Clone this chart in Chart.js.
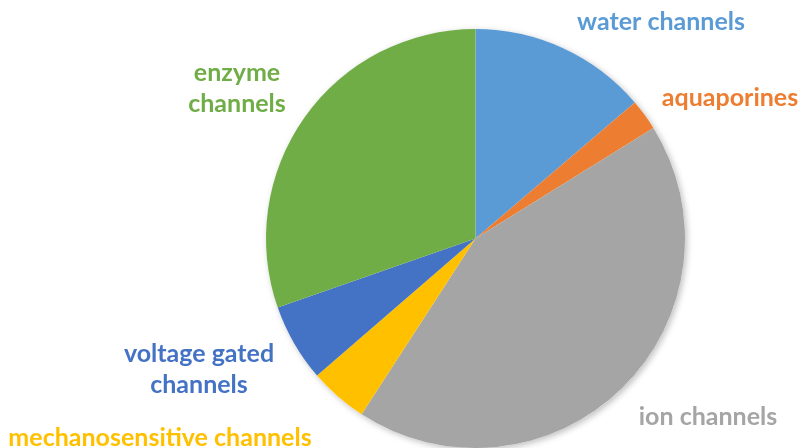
<!DOCTYPE html>
<html>
<head>
<meta charset="utf-8">
<script src="https://cdn.jsdelivr.net/npm/chart.js@4/dist/chart.umd.min.js"></script>
<style>
  html, body { margin: 0; padding: 0; background: #fff; }
  #wrap { width: 803px; height: 448px; }
</style>
</head>
<body>
<div id="wrap"><canvas id="grafico" width="803" height="448"></canvas></div>
<script>
// valores (em %)
const categorias = ['water channels', 'aquaporines', 'ion channels', 'mechanosensitive channels', 'voltage gated channels', 'enzyme channels'];
const valores = [13.75, 2.4, 43, 4.5, 6, 30.35];
const cores = ['#5B9BD5', '#ED7D31', '#A5A5A5', '#FFC000', '#4472C4', '#70AD47'];

// rótulos: linhas de texto e posição (centro) de cada um
const rotulos = [
    { linhas: ['water channels'], x: 661, y: 22 },
    { linhas: ['aquaporines'], x: 730, y: 98 },
    { linhas: ['ion channels'], x: 708, y: 417 },
    { linhas: ['mechanosensitive channels'], x: 160, y: 438 },
    { linhas: ['voltage gated', 'channels'], x: 199, y: 354 },
    { linhas: ['enzyme', 'channels'], x: 237, y: 73 }
];

const sombra = {
    id: 'sombra',
    beforeDatasetsDraw(chart) {
        const arc = chart.getDatasetMeta(0).data[0];
        if (!arc) return;
        const ctx = chart.ctx;
        ctx.save();
        ctx.shadowColor = 'rgba(0,0,0,0.25)';
        ctx.shadowBlur = 6;
        ctx.shadowOffsetX = 2;
        ctx.shadowOffsetY = 2;
        ctx.fillStyle = '#fff';
        ctx.beginPath();
        ctx.arc(arc.x, arc.y, arc.outerRadius, 0, Math.PI * 2);
        ctx.fill();
        ctx.restore();
    }
};

const textos = {
    id: 'textos',
    afterDraw(chart) {
        const ctx = chart.ctx;
        ctx.save();
        ctx.font = 'bold 25px Lato';
        ctx.textAlign = 'center';
        ctx.textBaseline = 'middle';
        rotulos.forEach((r, i) => {
            ctx.fillStyle = cores[i];
            r.linhas.forEach((l, j) => {
                ctx.fillText(l, r.x, r.y + j * 31);
            });
        });
        ctx.restore();
    }
};

new Chart(document.getElementById('grafico'), {
    type: 'pie',
    data: {
        labels: categorias,
        datasets: [{
            data: valores,
            backgroundColor: cores,
            borderWidth: 0
        }]
    },
    options: {
        responsive: false,
        animation: false,
        layout: { padding: { top: 29, bottom: 0, left: 266, right: 118 } },
        plugins: {
            legend: { display: false },
            tooltip: { enabled: false }
        }
    },
    plugins: [sombra, textos]
});
</script>
</body>
</html>
